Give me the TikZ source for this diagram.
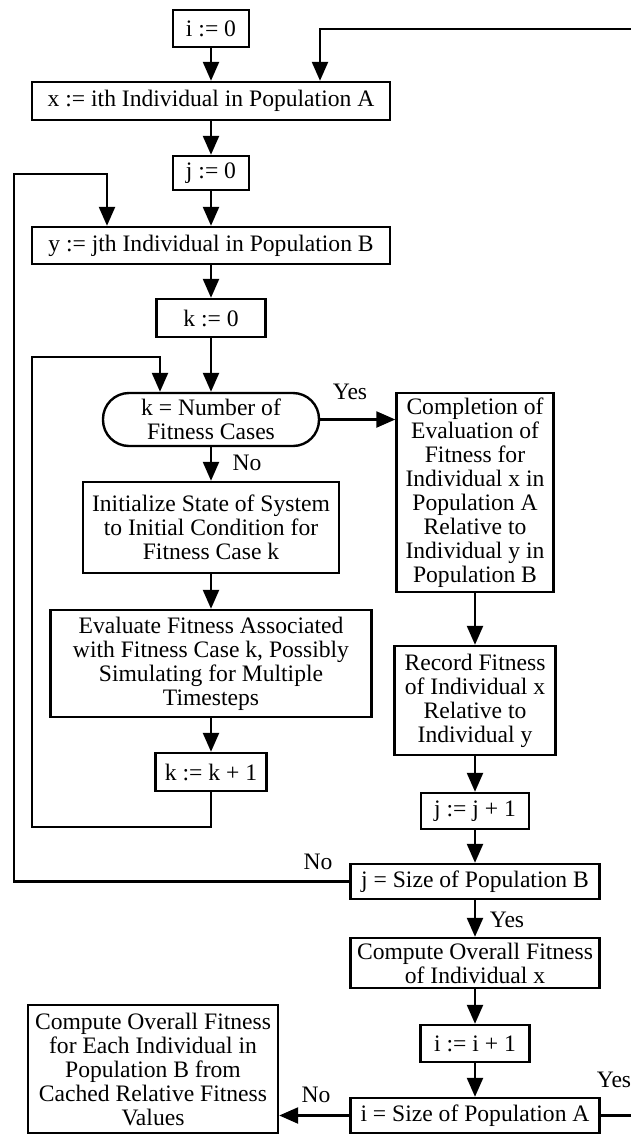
\documentclass[tikz,border=0pt]{standalone}
\usepackage{fontspec}
\setmainfont{Liberation Serif}
\usetikzlibrary{arrows.meta}

\tikzset{
  box/.style={draw, line width=1.2pt, inner sep=0pt, align=center},
  test/.style={box, rounded corners=13pt},
  flow/.style={line width=1.2pt, -{Triangle[width=8pt,length=9.5pt]}},
  tag/.style={inner sep=0pt}
}

\begin{document}
\begin{tikzpicture}[x=0.5pt, y=-0.5pt, font=\fontsize{11.8}{12}\selectfont]
\useasboundingbox (0,0) rectangle (631,1136);

% left column: loops over i, j and k
\node[box, minimum width=38pt, minimum height=18.5pt] (i0) at (211,28.5) {i := 0};
\node[box, minimum width=179pt, minimum height=19pt] (xA) at (211,101) {x := ith Individual in Population A};
\node[box, minimum width=38pt, minimum height=17pt] (j0) at (211,173) {j := 0};
\node[box, minimum width=179pt, minimum height=18.5pt] (yB) at (211,245.5) {y := jth Individual in Population B};
\node[box, minimum width=54.5pt, minimum height=19pt] (k0) at (211,318) {k := 0};
\node[test, minimum width=108pt, minimum height=26.5pt] (kcases) at (211,419.5) {k = Number of\\Fitness Cases};
\node[box, minimum width=128pt, minimum height=45.5pt] (init) at (211,527.5)
  {Initialize State of System\\to Initial Condition for\\Fitness Case k};
\node[box, minimum width=160.5pt, minimum height=53.5pt] (eval) at (211,663.5)
  {Evaluate Fitness Associated\\with Fitness Case k, Possibly\\Simulating for Multiple\\Timesteps};
\node[box, minimum width=55.5pt, minimum height=19pt] (kinc) at (211,772) {k := k + 1};

% right column
\node[box, minimum width=78.5pt, minimum height=99.5pt] (compl) at (475,492.5)
  {Completion of\\Evaluation of\\Fitness for\\Individual x in\\Population A\\Relative to\\Individual y in\\Population B};
\node[box, minimum width=80.5pt, minimum height=54.5pt] (record) at (475,700.5)
  {Record Fitness\\of Individual x\\Relative to\\Individual y};
\node[box, minimum width=54pt, minimum height=18pt] (jinc) at (475,811) {j := j + 1};
\node[box, minimum width=124.5pt, minimum height=17.5pt] (jsize) at (475,881.5) {j = Size of Population B};
\node[box, minimum width=124.5pt, minimum height=25pt] (overall) at (475,963)
  {Compute Overall Fitness\\of Individual x};
\node[box, minimum width=54.5pt, minimum height=18.5pt] (iinc) at (475,1043.5) {i := i + 1};
\node[box, minimum width=124.5pt, minimum height=17.5pt] (isize) at (475,1115.5) {i = Size of Population A};
\node[box, minimum width=125pt, minimum height=64pt] (final) at (153,1069)
  {Compute Overall Fitness\\for Each Individual in\\Population B from\\Cached Relative Fitness\\Values};

% branch labels
\node[tag] (yesK) at (350,392) {Yes};
\node[tag] (noK) at (247,463) {No};
\node[tag] (noJ) at (318,862) {No};
\node[tag] (yesJ) at (507,920) {Yes};
\node[tag] (noI) at (316,1095) {No};
\node[tag] (yesI) at (614,1080) {Yes};

% loop corners
\coordinate (outA) at (645,29);
\coordinate (inA) at (320,29);
\coordinate (outB) at (14,174);
\coordinate (inB) at (107,174);
\coordinate (outK) at (32,827);
\coordinate (inK) at (160,357);

\draw[flow] (i0) -- (xA);
\draw[flow] (xA) -- (j0);
\draw[flow] (j0) -- (yB);
\draw[flow] (yB) -- (k0);
\draw[flow] (k0) -- (kcases);
\draw[flow] (kcases) -- (init);
\draw[flow] (init) -- (eval);
\draw[flow] (eval) -- (kinc);
\draw[flow] (kcases.east) -- (kcases.east -| compl.west);
\draw[flow] (compl) -- (record);
\draw[flow] (record) -- (jinc);
\draw[flow] (jinc) -- (jsize);
\draw[flow] (jsize) -- (overall);
\draw[flow] (overall) -- (iinc);
\draw[flow] (iinc) -- (isize);
\draw[flow] (isize.west) -- (isize.west -| final.east);

\draw[flow] (kinc.south) |- (outK) |- (inK) -- (inK |- kcases.north);
\draw[flow] (jsize.west) -| (outB) -- (inB) -- (inB |- yB.north);
\draw[flow] (isize.east) -| (outA) -- (inA) -- (inA |- xA.north);
\end{tikzpicture}
\end{document}
